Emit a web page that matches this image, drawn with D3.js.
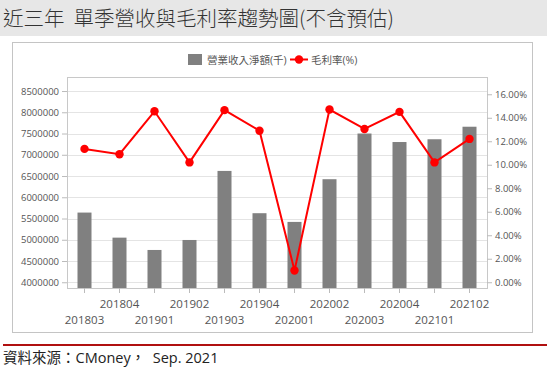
<!DOCTYPE html>
<html>
<head>
<meta charset="utf-8">
<script src="https://d3js.org/d3.v7.min.js"></script>
<style>
  body{ margin:0; background:#fff; }
  text{ font-family:"Open Sans","Noto Sans CJK TC",sans-serif; }
</style>
</head>
<body>
<svg id="chart" width="547" height="385"></svg>
<script>
// quarters
const quarters = ["201803","201804","201901","201902","201903","201904",
                  "202001","202002","202003","202004","202101","202102"];
// 營業收入淨額(千)
const revenue = [5640000,5050000,4760000,4995000,6620000,5625000,
                 5420000,6425000,7500000,7300000,7365000,7660000];
// 毛利率(%)
const margin = [11.35,10.9,14.55,10.2,14.65,12.9,
                1.0,14.7,13.05,14.5,10.2,12.2];
const leftTicks = [4000000,4500000,5000000,5500000,6000000,6500000,7000000,7500000,8000000,8500000];
const rightTicks = [0,2,4,6,8,10,12,14,16];

const svg = d3.select("#chart");

// title band
svg.append("rect").attr("x",0).attr("y",0).attr("width",547).attr("height",36).attr("fill","#e7e7e7");
svg.append("text").attr("x",3).attr("y",26).attr("fill","#333")
  .style("font-size","20.5px").style("font-family","'Noto Sans CJK TC',sans-serif")
  .style("font-weight","300").style("white-space","pre")
  .text("近三年  單季營收與毛利率趨勢圖(不含預估)");

// chart box
svg.append("rect").attr("x",12.5).attr("y",42.5).attr("width",520).attr("height",290)
  .attr("fill","#fff").attr("stroke","#c4c4c4");

const L = 67, R = 487, T = 77, B = 288;

const x = d3.scaleBand().domain(quarters).range([L,R]).paddingInner(0.6).paddingOuter(0.3);
const yL = d3.scaleLinear().domain([3865000,8830000]).range([B,T]);
const yR = d3.scaleLinear().domain([-0.49,17.47]).range([B,T]);

// gridlines
svg.append("g").selectAll("line").data(leftTicks).join("line")
  .attr("x1",L).attr("x2",R).attr("y1",d=>Math.round(yL(d))+0.5).attr("y2",d=>Math.round(yL(d))+0.5)
  .attr("stroke","#e4e4e4");

// plot border
svg.append("rect").attr("x",L+0.5).attr("y",T+0.5).attr("width",R-L).attr("height",B-T)
  .attr("fill","none").attr("stroke","#c8c8c8");

// bars
svg.append("g").selectAll("rect").data(revenue).join("rect")
  .attr("x",(d,i)=>x(quarters[i]))
  .attr("width",x.bandwidth())
  .attr("y",d=>yL(d))
  .attr("height",d=>B-yL(d))
  .attr("fill","#808080");

// axes
const axL = svg.append("g").attr("transform",`translate(${L},0)`)
  .call(d3.axisLeft(yL).tickValues(leftTicks).tickSize(5).tickPadding(3).tickFormat(d3.format("d")));
const axR = svg.append("g").attr("transform",`translate(${R},0)`)
  .call(d3.axisRight(yR).tickValues(rightTicks).tickSize(5).tickPadding(3).tickFormat(d=>d.toFixed(2)+"%"));
const axB = svg.append("g").attr("transform",`translate(0,${B})`)
  .call(d3.axisBottom(x).tickSize(5).tickPadding(3));

[axL,axR,axB].forEach(g=>{
  g.select(".domain").remove();
  g.selectAll(".tick line").attr("stroke","#bbb");
  g.selectAll(".tick text").attr("fill","#555").style("font-size","9.5px");
});
axB.selectAll(".tick text")
  .style("font-size","11.5px")
  .attr("dy",(d,i)=> i%2===0 ? "2.45em" : "1.05em");

// margin line
const line = d3.line().x((d,i)=>x(quarters[i])+x.bandwidth()/2).y(d=>yR(d));
svg.append("path").datum(margin).attr("d",line)
  .attr("fill","none").attr("stroke","#f00").attr("stroke-width",2);
svg.append("g").selectAll("circle").data(margin).join("circle")
  .attr("cx",(d,i)=>x(quarters[i])+x.bandwidth()/2).attr("cy",d=>yR(d))
  .attr("r",4.2).attr("fill","#f00");

// legend
const lg = svg.append("g").style("font-size","10.5px");
lg.append("rect").attr("x",188).attr("y",54).attr("width",14).attr("height",11).attr("fill","#808080");
lg.append("text").attr("x",207).attr("y",63.5).attr("fill","#555").text("營業收入淨額(千)");
lg.append("line").attr("x1",290).attr("x2",308).attr("y1",59.5).attr("y2",59.5).attr("stroke","#f00").attr("stroke-width",2);
lg.append("circle").attr("cx",299).attr("cy",59.5).attr("r",4.2).attr("fill","#f00");
lg.append("text").attr("x",311).attr("y",63.5).attr("fill","#555").text("毛利率(%)");

// footer
svg.append("line").attr("x1",3).attr("x2",547).attr("y1",345).attr("y2",345)
  .attr("stroke","#b01010").attr("stroke-width",2);
svg.append("text").attr("x",3).attr("y",363).attr("fill","#222")
  .style("font-size","14.5px").style("white-space","pre")
  .text("資料來源：CMoney，  Sep. 2021");
</script>
</body>
</html>
